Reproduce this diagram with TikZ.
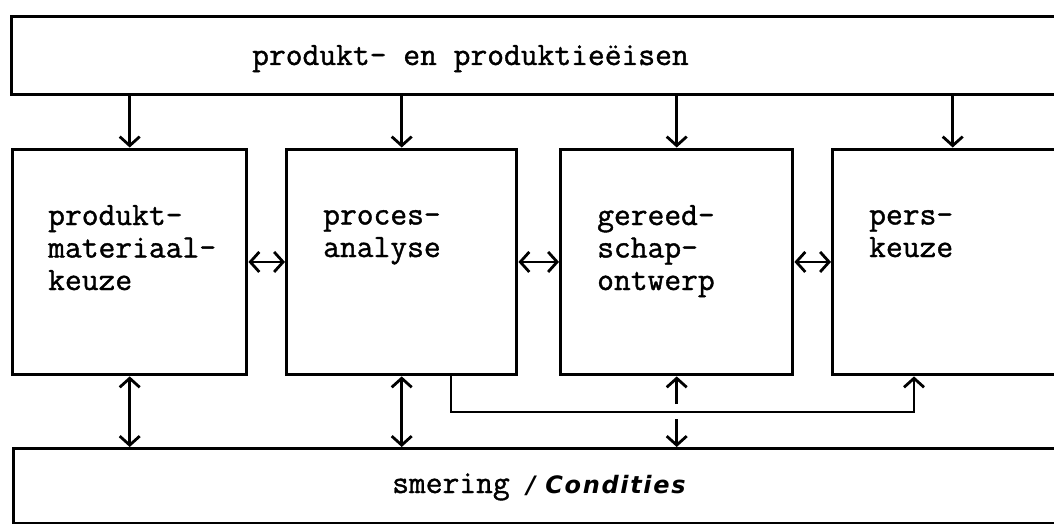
\documentclass[tikz,border=0pt]{standalone}
\usepackage{fontspec}
\setmonofont[FakeBold = 1.2]{Latin Modern Mono}
\newfontfamily\handFont[LetterSpace = 7]{DejaVu Sans}
\usetikzlibrary{positioning, arrows.meta}
\tikzstyle{sheet} = [x = 1pt, y = -1pt]
\tikzstyle{blockStyle} = [draw, line width = 3.4pt, inner sep = 0, anchor = north west]
\tikzstyle{blockText} = [font = \fontsize{32.6}{32.5}\selectfont\ttfamily\bfseries, inner sep = 0, align = left, anchor = base west]
\tikzstyle{link} = [line width = 2.8pt, -{Straight Barb[length = 9pt, width = 20pt]}]
\tikzstyle{twoWay} = [link, {Straight Barb[length = 9pt, width = 20pt]}-{Straight Barb[length = 9pt, width = 20pt]}]
\newcommand{\block}[5]{\node [blockStyle, minimum width = #4pt, minimum height = #5pt] (#1) at (#2, #3) {};}
% the label is placed by the baseline of its last line
\newcommand{\blockLabel}[4]{\node [blockText] (#1) at (#2, #3) {#4};}
\begin{document}
\begin{tikzpicture}[sheet]
      \useasboundingbox (0, 0) rectangle (1054, 524);
      \clip (0, 0) rectangle (1054, 524);

      % top and bottom bars
      \block{eisen}{10}{15}{1070}{78}
      \block{smering}{12}{447}{1070}{75}
      \blockLabel{eisenText}{252}{65}{produkt- en produktieëisen}
      \blockLabel{smeringText}{392}{493}{smering {\handFont\bfseries\itshape\fontsize{24}{30}\selectfont/ Condities}}

      % the four stages
      \block{materiaal}{11}{147.5}{234}{225.5}
      \block{proces}{285}{147.5}{230}{225.5}
      \block{gereedschap}{559}{147.5}{232}{225.5}
      \block{pers}{831}{147.5}{240}{225.5}
      \blockLabel{materiaalText}{48}{290}{produkt-\\materiaal-\\keuze}
      \blockLabel{procesText}{323}{257}{proces-\\analyse}
      \blockLabel{gereedschapText}{597}{290}{gereed-\\schap-\\ontwerp}
      \blockLabel{persText}{869}{257}{pers-\\keuze}

      % requirements feed every stage
      \foreach \stage in {materiaal, proces, gereedschap, pers} {
        \draw [link] (eisen.south -| \stage.north) -- (\stage.north);
      }

      % stages talk to their neighbours
      \draw [twoWay] (materiaal) -- (proces);
      \draw [twoWay] (proces) -- (gereedschap);
      \draw [twoWay] (gereedschap) -- (pers);

      % links down to the lubrication bar
      \draw [twoWay] (materiaal.south) -- (materiaal.south |- smering.north);
      \draw [twoWay] (proces.south) -- (proces.south |- smering.north);

      \coordinate (tap) at (451, 412);
      \coordinate (persFeed) at (914, 412);
      \coordinate (hub) at (gereedschap.south |- tap);
      \draw [link] (proces.south -| tap) |- (persFeed) -- (persFeed |- pers.south);
      \draw [link, shorten <= 8pt] (hub) -- (gereedschap.south);
      \draw [link, shorten <= 7pt] (hub) -- (hub |- smering.north);
    \end{tikzpicture}
\end{document}
